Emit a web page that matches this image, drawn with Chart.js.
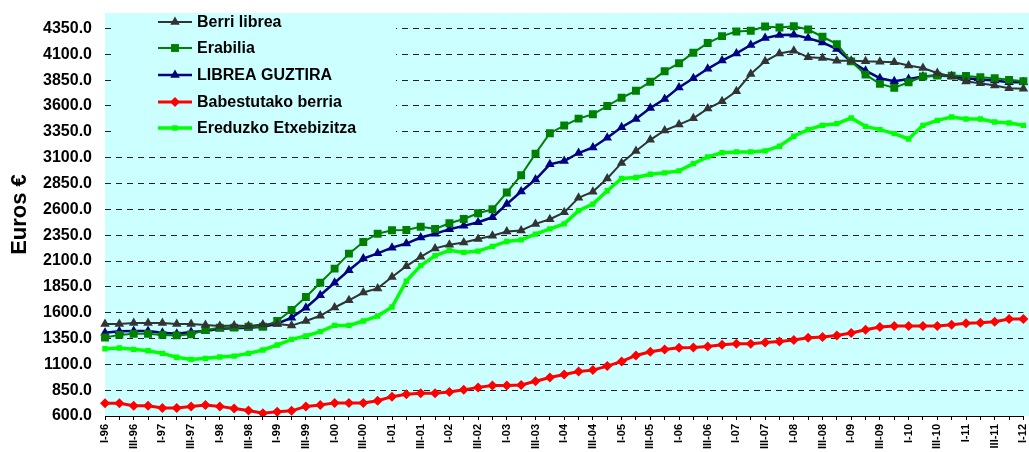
<!DOCTYPE html>
<html>
<head>
<meta charset="utf-8">
<script src="https://cdn.jsdelivr.net/npm/chart.js@4.4.1/dist/chart.umd.min.js"></script>
<style>
  html, body { margin: 0; padding: 0; background: #ffffff; }
  #wrap { width: 1029px; height: 452px; position: relative; }
</style>
</head>
<body>
<div id="wrap"><canvas id="c" width="1029" height="452"></canvas></div>
<script>
const quarters = [
  'I-96','II-96','III-96','IV-96','I-97','II-97','III-97','IV-97',
  'I-98','II-98','III-98','IV-98','I-99','II-99','III-99','IV-99',
  'I-00','II-00','III-00','IV-00','I-01','II-01','III-01','IV-01',
  'I-02','II-02','III-02','IV-02','I-03','II-03','III-03','IV-03',
  'I-04','II-04','III-04','IV-04','I-05','II-05','III-05','IV-05',
  'I-06','II-06','III-06','IV-06','I-07','II-07','III-07','IV-07',
  'I-08','II-08','III-08','IV-08','I-09','II-09','III-09','IV-09',
  'I-10','II-10','III-10','IV-10','I-11','II-11','III-11','IV-11',
  'I-12'
];

const berriLibrea = [
  1490,1490,1500,1500,1500,1490,1490,1480,1470,1475,1470,1485,1490,1475,1520,1570,
  1650,1720,1795,1835,1945,2050,2140,2222,2257,2280,2312,2344,2385,2395,2459,2504,
  2571,2712,2770,2898,3049,3164,3273,3363,3420,3481,3575,3645,3743,3910,4032,4109,
  4135,4071,4064,4039,4039,4032,4029,4023,3991,3968,3920,3885,3837,3821,3798,3772,
  3766
];

const erabilia = [
  1360,1385,1395,1395,1385,1380,1390,1432,1455,1455,1464,1464,1519,1626,1752,1890,
  2026,2171,2284,2364,2397,2400,2432,2411,2465,2507,2562,2600,2763,2930,3139,3337,
  3411,3478,3520,3600,3680,3747,3834,3937,4013,4116,4209,4276,4321,4328,4369,4360,
  4372,4340,4270,4199,4032,3904,3814,3776,3830,3885,3894,3894,3891,3878,3869,3853,
  3840
];

const libreaGuztira = [
  1405,1420,1422,1422,1406,1397,1413,1422,1445,1448,1455,1464,1493,1552,1648,1768,
  1890,2010,2123,2174,2229,2269,2327,2363,2408,2440,2475,2523,2651,2773,2888,3036,
  3068,3145,3199,3292,3395,3475,3581,3667,3780,3869,3960,4040,4109,4190,4257,4286,
  4289,4257,4215,4151,4029,3942,3869,3840,3862,3885,3894,3888,3869,3856,3846,3830,
  3830
];

const babestutakoBerria = [
  723,723,700,700,677,677,693,707,693,673,653,627,640,650,693,707,
  727,727,727,747,787,810,820,820,833,853,877,895,895,901,937,973,
  1002,1031,1044,1083,1128,1186,1222,1244,1260,1264,1273,1290,1299,1299,1312,1322,
  1335,1357,1364,1380,1403,1435,1461,1471,1471,1471,1471,1484,1497,1503,1513,1539,
  1539
];

const ereduzkoEtxebizitza = [
  1251,1258,1245,1232,1206,1168,1148,1158,1171,1180,1206,1239,1287,1342,1374,1416,
  1477,1477,1519,1568,1655,1905,2055,2151,2203,2183,2196,2241,2289,2305,2360,2411,
  2459,2587,2651,2780,2898,2908,2940,2953,2972,3042,3108,3147,3156,3156,3166,3211,
  3307,3371,3413,3429,3484,3403,3371,3333,3281,3413,3461,3493,3474,3474,3445,3435,
  3413
];

const seriesNames = ['Berri librea','Erabilia','LIBREA GUZTIRA','Babestutako berria','Ereduzko Etxebizitza'];
const yTickValues = [600,850,1100,1350,1600,1850,2100,2350,2600,2850,3100,3350,3600,3850,4100,4350];
const yAxisTitle = 'Euros €';

const FONT = "'Liberation Sans', Arial, sans-serif";

function drawMarker(ctx, style, x, y, r, fill) {
  ctx.save();
  ctx.fillStyle = fill;
  ctx.beginPath();
  if (style === 'triangle') {
    ctx.moveTo(x, y - r);
    ctx.lineTo(x + r * 0.866, y + r * 0.5);
    ctx.lineTo(x - r * 0.866, y + r * 0.5);
    ctx.closePath();
  } else if (style === 'rect') {
    const s = r * Math.SQRT1_2;
    ctx.rect(x - s, y - s, 2 * s, 2 * s);
  } else if (style === 'rectRot') {
    ctx.moveTo(x, y - r);
    ctx.lineTo(x + r, y);
    ctx.lineTo(x, y + r);
    ctx.lineTo(x - r, y);
    ctx.closePath();
  }
  ctx.fill();
  ctx.restore();
}

const plotBg = {
  id: 'plotBg',
  beforeDraw(chart) {
    const {ctx, chartArea} = chart;
    ctx.save();
    ctx.fillStyle = '#CCFFFF';
    ctx.fillRect(chartArea.left, 13, chart.width - chartArea.left, chartArea.bottom - 13);
    ctx.restore();
  }
};

const innerLegend = {
  id: 'innerLegend',
  beforeDatasetsDraw(chart) {
    const {ctx} = chart;
    ctx.save();
    ctx.fillStyle = '#CCFFFF';
    ctx.fillRect(112, 13, 284, 132);
    const rows = [22, 48, 75, 102, 128];
    chart.data.datasets.forEach((ds, i) => {
      const y = rows[i];
      ctx.strokeStyle = ds.borderColor;
      ctx.lineWidth = ds.borderWidth;
      ctx.beginPath();
      ctx.moveTo(158, y);
      ctx.lineTo(192, y);
      ctx.stroke();
      drawMarker(ctx, ds.pointStyle, 175, y, ds.pointRadius, ds.pointBackgroundColor);
      ctx.fillStyle = '#000';
      ctx.font = 'bold 16px ' + FONT;
      ctx.textBaseline = 'middle';
      ctx.textAlign = 'left';
      ctx.fillText(ds.label, 197, y + 1);
    });
    ctx.restore();
  }
};

const mk = (label, data, color, width, style, radius) => ({
  label, data,
  borderColor: color,
  backgroundColor: color,
  pointBackgroundColor: color,
  pointBorderColor: color,
  pointBorderWidth: 0,
  borderWidth: width,
  pointStyle: style,
  pointRadius: radius,
  pointHoverRadius: radius,
  tension: 0,
  fill: false
});

new Chart(document.getElementById('c'), {
  type: 'line',
  data: {
    labels: quarters,
    datasets: [
      mk(seriesNames[0], berriLibrea, '#333333', 2, 'triangle', 5.5),
      mk(seriesNames[1], erabilia, '#008000', 2, 'rect', 5.6),
      mk(seriesNames[2], libreaGuztira, '#000080', 2.5, 'triangle', 5.5),
      mk(seriesNames[3], babestutakoBerria, '#FF0000', 3, 'rectRot', 5),
      mk(seriesNames[4], ereduzkoEtxebizitza, '#00FF00', 3.5, 'rect', 3.8)
    ]
  },
  options: {
    responsive: false,
    animation: false,
    events: [],
    layout: { padding: { left: 0, right: 3, top: 13, bottom: 0 } },
    plugins: {
      legend: { display: false },
      tooltip: { enabled: false },
      title: { display: false }
    },
    scales: {
      x: {
        type: 'category',
        offset: false,
        grid: { display: true, drawOnChartArea: false, drawTicks: true, tickLength: 4, color: '#000', lineWidth: 1 },
        border: { display: true, color: '#000', width: 1 },
        ticks: {
          autoSkip: false,
          maxRotation: 90,
          minRotation: 90,
          padding: 4,
          color: '#000',
          font: { family: FONT, size: 11, weight: 'bold' },
          callback: (v, i) => (i % 2 === 0 ? quarters[i] : '')
        },
        afterFit: (s) => { s.height = 36; s.paddingLeft = 0; s.paddingRight = 0; }
      },
      y: {
        min: 600,
        max: 4500,
        afterBuildTicks: (s) => { s.ticks = yTickValues.map(v => ({ value: v })); },
        grid: { display: true, drawTicks: false, color: '#222', lineWidth: 1 },
        border: { display: false, dash: [6, 5] },
        ticks: {
          padding: 13,
          color: '#000',
          font: { family: FONT, size: 16, weight: 'bold' },
          callback: (v) => Number(v).toFixed(1)
        },
        title: {
          display: true,
          text: yAxisTitle,
          color: '#000',
          font: { family: FONT, size: 22, weight: 'bold' },
          padding: { top: 7, bottom: 0 }
        },
        afterFit: (s) => { s.width = 105; s.paddingTop = 0; s.paddingBottom = 0; }
      }
    }
  },
  plugins: [plotBg, innerLegend]
});
</script>
</body>
</html>
